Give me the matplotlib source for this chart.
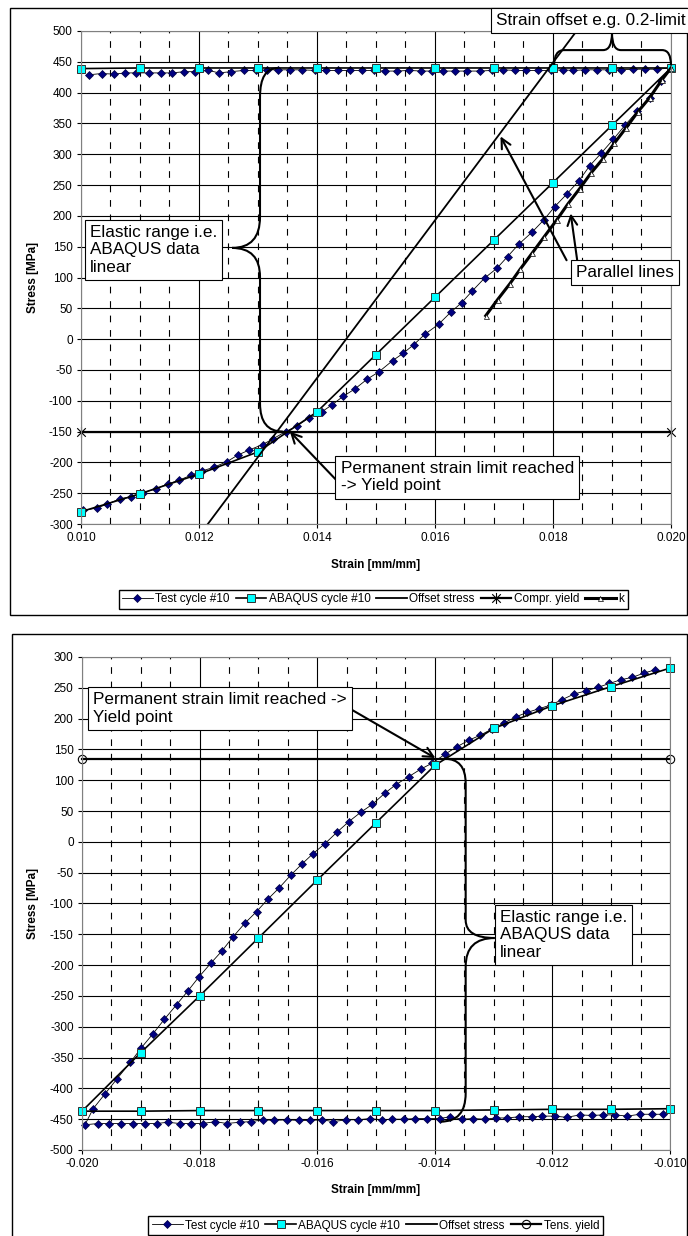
import numpy as np
import matplotlib.pyplot as plt
from matplotlib.path import Path
from matplotlib.patches import PathPatch, Rectangle
from matplotlib.ticker import MultipleLocator, FormatStrFormatter

plt.rcParams['font.family'] = ['Liberation Sans', 'DejaVu Sans']
plt.rcParams['axes.unicode_minus'] = False

# ---- compression side (cycle #10) ----
c_test_strain = [0.01004, 0.01027, 0.01044, 0.01066, 0.01084, 0.01105, 0.01127, 0.01147, 0.01166, 0.01186,
                 0.01205, 0.01225, 0.01247, 0.01266, 0.01285, 0.01308, 0.01325, 0.01347, 0.01366, 0.01386,
                 0.01408, 0.01425, 0.01444, 0.01464, 0.01485, 0.01505, 0.01528, 0.01546, 0.01564, 0.01583,
                 0.01606, 0.01627, 0.01645, 0.01663, 0.01684, 0.01705, 0.01723, 0.01742, 0.01765, 0.01784,
                 0.01803, 0.01823, 0.01844, 0.01862, 0.01882, 0.01902, 0.01922, 0.01943, 0.01964, 0.01983,
                 0.02000,
                 0.01976, 0.01956, 0.01935, 0.01915, 0.01895, 0.01875, 0.01854, 0.01834, 0.01817, 0.01796,
                 0.01775, 0.01755, 0.01736, 0.01716, 0.01696, 0.01676, 0.01654, 0.01634, 0.01614, 0.01595,
                 0.01577, 0.01556, 0.01536, 0.01515, 0.01496, 0.01476, 0.01456, 0.01436, 0.01416, 0.01396,
                 0.01375, 0.01354, 0.01334, 0.01316, 0.01296, 0.01276, 0.01254, 0.01234, 0.01216, 0.01194,
                 0.01175, 0.01154, 0.01135, 0.01115, 0.01094, 0.01075, 0.01056, 0.01035, 0.01014]
c_test_stress = [-278, -274, -268, -259, -256, -249, -243, -235, -229, -221,
                 -214, -208, -199, -188, -180, -171, -162, -150, -141, -128,
                 -118, -107, -93, -81, -65, -53, -35, -23, -9, 8,
                 24, 44, 59, 78, 99, 115, 134, 154, 174, 193,
                 215, 235, 257, 281, 302, 324, 347, 370, 392, 419,
                 440,
                 438, 438, 438, 437, 437, 437, 437, 436, 437, 436,
                 436, 436, 436, 437, 436, 435, 435, 435, 435, 435,
                 435, 436, 435, 435, 436, 436, 436, 436, 436, 436,
                 437, 437, 437, 437, 436, 436, 434, 432, 436, 434,
                 434, 432, 432, 432, 432, 432, 430, 431, 429]

c_abq_strain = [0.010, 0.011, 0.012, 0.013, 0.014, 0.015, 0.016, 0.017, 0.018, 0.019, 0.020,
                0.019, 0.018, 0.017, 0.016, 0.015, 0.014, 0.013, 0.012, 0.011, 0.010]
c_abq_stress = [439, 440, 440, 440, 440, 440, 440, 440, 440, 440, 440,
                347, 254, 161, 68, -25, -118, -183, -219, -251, -280]

c_offset_strain = [0.01215, 0.01840]
c_offset_stress = [-300, 500]

c_yield_strain = [0.010, 0.020]
c_yield_stress = [-150, -150]

k_strain = [0.01686, 0.01706, 0.01727, 0.01744, 0.01765, 0.01785, 0.01806, 0.01825, 0.01845,
            0.01864, 0.01884, 0.01904, 0.01924, 0.01944, 0.01964, 0.01984, 0.02000]
k_stress = [38, 64, 90, 113, 140, 166, 193, 219, 244, 269, 292, 318, 343, 369, 392, 420, 440]

# ---- tension side (cycle #10) ----
t_test_strain = [-0.01012, -0.01031, -0.01051, -0.01073, -0.01093, -0.01114, -0.01133, -0.01153, -0.01176,
                 -0.01196, -0.01217, -0.01235, -0.01256, -0.01277, -0.01296, -0.01315, -0.01335, -0.01354,
                 -0.01374, -0.01392, -0.01413, -0.01433, -0.01452, -0.01472, -0.01490,
                 -0.01511, -0.01531, -0.01551, -0.01573, -0.01591, -0.01612, -0.01631, -0.01652, -0.01673,
                 -0.01692, -0.01713, -0.01732, -0.01754, -0.01773, -0.01795, -0.01815, -0.01834, -0.01854,
                 -0.01873, -0.01893, -0.01914, -0.01934, -0.01954, -0.01972, -0.01995,
                 -0.01981, -0.01961, -0.01940, -0.01918, -0.01899, -0.01879, -0.01860, -0.01839, -0.01820,
                 -0.01801, -0.01781, -0.01762, -0.01744, -0.01723, -0.01703, -0.01684, -0.01665, -0.01645,
                 -0.01626, -0.01607, -0.01587, -0.01566, -0.01546, -0.01526, -0.01506, -0.01485, -0.01466,
                 -0.01444, -0.01424, -0.01404, -0.01383, -0.01363, -0.01342, -0.01323, -0.01303, -0.01282,
                 -0.01262, -0.01243, -0.01223, -0.01203, -0.01183, -0.01163, -0.01143, -0.01122, -0.01103,
                 -0.01084, -0.01064, -0.01044, -0.01026]
t_test_stress = [-442, -442, -442, -445, -443, -443, -444, -443, -447,
                 -445, -445, -446, -446, -448, -448, -450, -449, -450,
                 -446, -449, -449, -449, -450, -450, -451,
                 -449, -451, -451, -454, -451, -452, -452, -451, -452,
                 -451, -454, -455, -457, -454, -457, -457, -457, -455,
                 -457, -457, -457, -457, -457, -457, -459,
                 -433, -409, -384, -358, -334, -311, -288, -264, -242,
                 -219, -197, -177, -155, -132, -113, -93, -75, -54,
                 -36, -19, -3, 16, 33, 48, 61, 79, 93,
                 106, 118, 128, 142, 154, 165, 173, 183, 193,
                 203, 210, 216, 222, 231, 240, 245, 251, 257,
                 263, 267, 274, 279]

t_abq_strain = [-0.010, -0.011, -0.012, -0.013, -0.014, -0.015, -0.016, -0.017, -0.018, -0.019, -0.020,
                -0.019, -0.018, -0.017, -0.016, -0.015, -0.014, -0.013, -0.012, -0.011, -0.010]
t_abq_stress = [-433, -434, -434, -435, -436, -436, -436, -436, -436, -437, -437,
                -342, -250, -156, -62, 31, 124, 184, 221, 252, 282]

t_offset_strain = []
t_offset_stress = []

t_yield_strain = [-0.020, -0.010]
t_yield_stress = [134, 134]

# asterisk marker: an x with a vertical bar through it
STAR = Path([(-1, -1), (1, 1), (-1, 1), (1, -1), (0, -1.3), (0, 1.3)],
            [Path.MOVETO, Path.LINETO, Path.MOVETO, Path.LINETO, Path.MOVETO, Path.LINETO])


def style_axes(ax, xlim, ylim, ylab_x, xlab_y):
    ax.set_xlim(*xlim)
    ax.set_ylim(*ylim)
    ax.xaxis.set_major_locator(MultipleLocator(0.002))
    ax.xaxis.set_minor_locator(MultipleLocator(0.0005))
    ax.yaxis.set_major_locator(MultipleLocator(50))
    ax.xaxis.set_major_formatter(FormatStrFormatter('%.3f'))
    ax.set_axisbelow(True)
    ax.grid(which='major', axis='both', color='black', lw=0.8)
    ax.grid(which='minor', axis='x', color='black', lw=0.8, ls=(0, (6, 7)))
    ax.tick_params(which='major', direction='out', length=3, width=0.8, labelsize=8.5, pad=3)
    ax.tick_params(which='minor', length=0)
    for sp in ax.spines.values():
        sp.set_color('#808080')
    ax.set_xlabel('Strain [mm/mm]', fontsize=8.5, fontweight='bold')
    ax.set_ylabel('Stress [MPa]', fontsize=8.5, fontweight='bold')
    ax.yaxis.set_label_coords(ylab_x, 0.5)
    ax.xaxis.set_label_coords(0.5, xlab_y)


def plot_cycle(ax, test, abq, offset, yld, yld_label, yld_marker):
    ax.plot(*test, color='black', lw=0.6, marker='D', ms=4.3, mfc='#000080', mec='#000040',
            mew=0.5, label='Test cycle #10', clip_on=False)
    ax.plot(*abq, color='black', lw=1.2, marker='s', ms=6, mfc='#00FFFF', mec='#303030',
            mew=0.7, label='ABAQUS cycle #10', clip_on=False)
    ax.plot(*offset, color='black', lw=1.3, label='Offset stress', clip_on=False)
    if yld_marker == 'o':
        ax.plot(*yld, color='black', lw=1.6, marker='o', ms=6, mfc='none', mec='black', mew=0.8,
                label=yld_label, clip_on=False)
    else:
        ax.plot(*yld, color='black', lw=1.6, marker=STAR, ms=8, mec='black', mew=0.8,
                label=yld_label, clip_on=False)


def note(ax, x, y, s):
    ax.text(x, y, s, fontsize=12.3, ha='left', va='center', linespacing=1.22, zorder=7,
            bbox=dict(boxstyle='square,pad=0.3', fc='white', ec='black', lw=0.8))


def arrow(ax, tail, head):
    ax.annotate('', xy=head, xytext=tail, zorder=6,
                arrowprops=dict(arrowstyle='->,head_length=0.7,head_width=0.35', lw=1.5,
                                color='black', shrinkA=0, shrinkB=0))


M, C, L = Path.MOVETO, Path.CURVE3, Path.LINETO


def curve(ax, verts, codes):
    ax.add_patch(PathPatch(Path(verts, codes), fill=False, lw=1.5, ec='black', zorder=6, clip_on=False))


fig = plt.figure(figsize=(6.88, 12.36), dpi=100)

# chart borders
fig.add_artist(Rectangle((10 / 688, 1 - 615 / 1236), 677 / 688, 607 / 1236, transform=fig.transFigure,
                         fill=False, lw=1, ec='black', zorder=-1))
fig.add_artist(Rectangle((12 / 688, -0.01), 675 / 688, (1236 - 634) / 1236 + 0.01, transform=fig.transFigure,
                         fill=False, lw=1, ec='black', zorder=-1))

# ---------------- compression chart ----------------
ax1 = fig.add_axes([0.11773, 0.57605, 0.85756, 0.39887])
style_axes(ax1, (0.010, 0.020), (-300, 500), -0.071, -0.071)
plot_cycle(ax1, (c_test_strain, c_test_stress), (c_abq_strain, c_abq_stress),
           (c_offset_strain, c_offset_stress), (c_yield_strain, c_yield_stress), 'Compr. yield', '*')
ax1.plot(k_strain, k_stress, color='black', lw=2.2, marker='^', ms=3.6, mfc='white', mec='black',
         mew=0.5, label='k', clip_on=False)

note(ax1, 0.01015, 145, 'Elastic range i.e.\nABAQUS data\nlinear')
note(ax1, 0.01440, -224, 'Permanent strain limit reached\n-> Yield point')
note(ax1, 0.01839, 108, 'Parallel lines')
note(ax1, 0.01703, 517, 'Strain offset e.g. 0.2-limit')

arrow(ax1, (0.01433, -229), (0.01354, -150))
arrow(ax1, (0.01823, 128), (0.01711, 329))
arrow(ax1, (0.01841, 128), (0.01830, 204))

# brace over the elastic part
T, V = (0.01256, 148), 0.013034
curve(ax1, [T, (V, 148), (V, 198), (V, 393), (V, 440), (0.01334, 440)], [M, C, C, L, C, C])
curve(ax1, [T, (V, 148), (V, 101), (V, -104), (V, -150), (0.01342, -150)], [M, C, C, L, C, C])
# brace over the strain offset
curve(ax1, [(0.01802, 445), (0.01802, 469), (0.01819, 469), (0.01885, 469), (0.01900, 469), (0.01900, 497)],
      [M, C, C, L, C, C])
curve(ax1, [(0.01900, 497), (0.01900, 469), (0.01915, 469), (0.01985, 469), (0.02000, 469), (0.02000, 444)],
      [M, C, C, L, C, C])

h, l = ax1.get_legend_handles_labels()
fig.legend(h, l, loc='upper center', bbox_to_anchor=(0.5422, 0.5227), ncol=5, fontsize=8.5,
           frameon=True, fancybox=False, edgecolor='black', framealpha=1, handlelength=2.6,
           handletextpad=0.2, columnspacing=0.5, borderpad=0.3, borderaxespad=0)

# ---------------- tension chart ----------------
ax2 = fig.add_axes([0.11919, 0.06958, 0.85465, 0.39887])
style_axes(ax2, (-0.020, -0.010), (-500, 300), -0.073, -0.069)
plot_cycle(ax2, (t_test_strain, t_test_stress), (t_abq_strain, t_abq_stress),
           (t_offset_strain, t_offset_stress), (t_yield_strain, t_yield_stress), 'Tens. yield', 'o')

note(ax2, -0.01981, 216, 'Permanent strain limit reached ->\nYield point')
note(ax2, -0.01289, -151, 'Elastic range i.e.\nABAQUS data\nlinear')
arrow(ax2, (-0.01546, 217), (-0.01399, 136))

T, V = (-0.01298, -156), -0.013475
curve(ax2, [T, (V, -156), (V, -127), (V, 95), (V, 135), (-0.01384, 135)], [M, C, C, L, C, C])
curve(ax2, [T, (V, -156), (V, -202), (V, -408), (V, -454), (-0.01390, -454)], [M, C, C, L, C, C])

h, l = ax2.get_legend_handles_labels()
fig.legend(h, l, loc='upper center', bbox_to_anchor=(0.5458, 0.0162), ncol=4, fontsize=8.5,
           frameon=True, fancybox=False, edgecolor='black', framealpha=1, handlelength=2.6,
           handletextpad=0.2, columnspacing=0.5, borderpad=0.3, borderaxespad=0)

fig.savefig('out.png', dpi=100)
